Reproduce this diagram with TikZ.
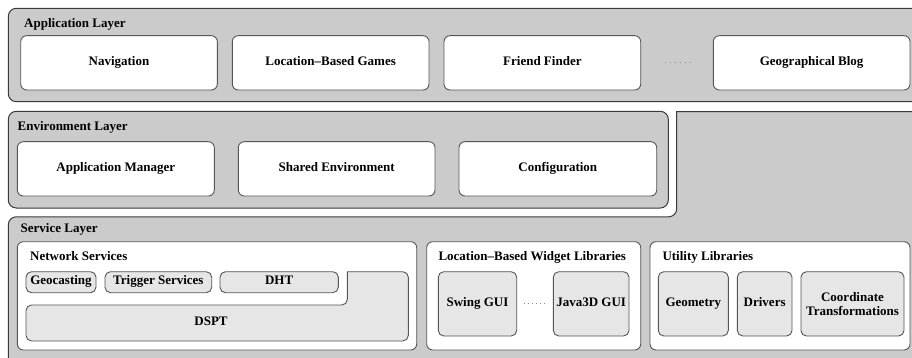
\documentclass[tikz,border=0pt]{standalone}
\usepackage{fontspec}
\setmainfont{Liberation Serif}
\definecolor{edgedark}{HTML}{3A3A3A}
\definecolor{edgemid}{HTML}{555555}
\definecolor{layergray}{HTML}{CBCBCB}
\definecolor{modgray}{HTML}{E6E6E6}
\definecolor{dotgray}{HTML}{8A8A8A}
\tikzset{
  layer/.style={draw=edgedark, fill=layergray, line width=1pt, rounded corners=8pt, inner sep=0pt, outer sep=0pt},
  panel/.style={draw=edgemid, fill=white, line width=0.9pt, rounded corners=6pt, inner sep=0pt, outer sep=0pt,
    align=center, text height=9pt, text depth=3.5pt},
  module/.style={panel, fill=modgray, rounded corners=5.5pt},
  multiline/.style={text height=, text depth=},
  heading/.style={anchor=base west, inner sep=0pt},
  ellipsis/.style={draw=dotgray, line width=0.8pt, dash pattern=on 0.8pt off 4.2pt},
}
% box given by its top-left and bottom-right corners
\newcommand\cornerbox[7]{%
  \node[#1, anchor=north west, minimum width={#5-#3}, minimum height={#6-#4}] (#2) at (#3,#4) {#7};}
\begin{document}
\begin{tikzpicture}[x=1pt, y=-1pt, font=\fontsize{13}{14}\selectfont\bfseries]
\useasboundingbox (0,0) rectangle (912,358);
\clip (0,0) rectangle (912,358);

% ---------------- Application layer ----------------
\cornerbox{layer}{applayer}{8.3}{8.3}{935}{101.7}{}
\node[heading] (apptitle) at (24,27.5) {Application Layer};
\cornerbox{panel}{nav}{20.7}{35.7}{217.3}{90}{Navigation}
\cornerbox{panel}{games}{232.3}{35.7}{429}{90}{Location--Based Games}
\cornerbox{panel}{friend}{444}{35.7}{640.7}{90}{Friend Finder}
\cornerbox{panel}{blog}{713.3}{35.7}{910}{90}{Geographical Blog}
\draw[ellipsis, shorten <=24pt, shorten >=23pt] (friend.east) -- (blog.west);

% ---------------- Environment layer ----------------
\cornerbox{layer}{envlayer}{8.3}{111.3}{668.3}{208}{}
\node[heading] (envtitle) at (17.5,131) {Environment Layer};
\cornerbox{panel}{appmgr}{17.3}{141.7}{214.3}{196}{Application Manager}
\cornerbox{panel}{shared}{238.3}{141.7}{435}{196}{Shared Environment}
\cornerbox{panel}{config}{459}{141.7}{656.7}{196}{Configuration}

% ---------------- Service layer (stepped outline) ----------------
\draw[draw=edgedark, fill=layergray, line width=1pt]
  (8.3,400) [rounded corners=8pt] -- (8.3,216.8) -- (676.7,216.8)
  [sharp corners] -- (676.7,111.7)
  [rounded corners=8pt] -- (940,111.7) -- (940,400) -- cycle;
\node[heading] (svctitle) at (20.5,232.5) {Service Layer};

% Network services
\cornerbox{panel}{netsvc}{17.3}{241.7}{416.7}{350}{}
\node[heading] (nettitle) at (30,260) {Network Services};
\cornerbox{module}{geocast}{26}{271.7}{96}{292.7}{Geocasting}
\cornerbox{module}{trigger}{105}{271.7}{211.7}{292.7}{Trigger Services}
\cornerbox{module}{dht}{220}{271.7}{338.3}{292.7}{DHT}
\draw[draw=edgemid, fill=modgray, line width=0.9pt]
  (26,323) [rounded corners=5.5pt] -- (26,305) -- (347.3,305)
  [sharp corners] -- (347.3,271.7)
  [rounded corners=5.5pt] -- (408.3,271.7) -- (408.3,341) -- (26,341) -- cycle;
\node[inner sep=0pt] (dspt) at (211,321.5) {DSPT};

% Location-based widget libraries
\cornerbox{panel}{widgets}{426.7}{241.7}{640.7}{350}{}
\node[heading] (widgettitle) at (438.3,260) {Location--Based Widget Libraries};
\cornerbox{module}{swing}{438.3}{271.7}{516.7}{336}{Swing GUI}
\cornerbox{module}{java3d}{553.3}{271.7}{629}{336}{Java3D GUI}
\draw[ellipsis, dash pattern=on 0.8pt off 3.2pt, shorten <=7pt, shorten >=6pt] (swing.east) -- (java3d.west);

% Utility libraries
\cornerbox{panel}{utility}{650}{241.7}{910}{350}{}
\node[heading] (utiltitle) at (662.3,260) {Utility Libraries};
\cornerbox{module}{geometry}{658.3}{271.7}{728.3}{336}{Geometry}
\cornerbox{module}{drivers}{737.3}{271.7}{792}{336}{Drivers}
\cornerbox{module, multiline}{coords}{801}{271.7}{904}{336}{Coordinate\\Transformations}
\end{tikzpicture}
\end{document}
